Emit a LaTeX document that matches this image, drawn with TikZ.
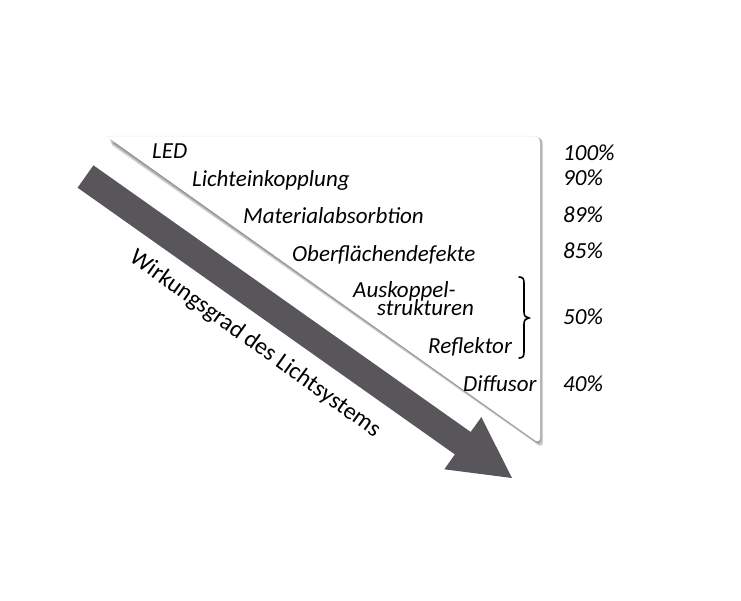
\documentclass[tikz,border=0pt]{standalone}
\usepackage{fontspec}
\setmainfont{Carlito}
\begin{document}
\begin{tikzpicture}[x=1pt,y=-1pt,
  lbl/.style={font=\fontsize{23}{25}\selectfont\itshape, inner sep=0pt, anchor=base west},
  pct/.style={font=\fontsize{23}{25}\selectfont\itshape, inner sep=0pt, anchor=base west},
  arrowgray/.style={fill={rgb,255:red,88;green,86;blue,90}, draw=none}]
\useasboundingbox (0,0) rectangle (741,600);
\fill[white] (0,0) rectangle (741,600);
% shadow of the triangle
\foreach \s in {1,2,...,8}{
  \fill[black, opacity=0.07, rounded corners=6pt]
    (106+\s*0.3,136+\s*0.9) -- (540+\s*0.4,136+\s*0.2) -- (540+\s*0.4,444+\s*0.6) -- cycle;
}
% triangle
\fill[white, rounded corners=6pt] (106,136) -- (540,136) -- (540,444) -- cycle;
\draw[black!8, line width=0.5pt, rounded corners=6pt] (106,136) -- (540,136) -- (540,444);
% big arrow
\fill[arrowgray] (93.4,165.3) -- (470.7,432.0) -- (481.3,417.1) -- (512,478)
  -- (444.3,469.3) -- (454.9,454.4) -- (77.6,187.7) -- cycle;
% labels
\node[lbl] (led) at (152,158) {LED};
\node[lbl] (lek) at (192,186) {Lichteinkopplung};
\node[lbl] (mat) at (243,223) {Materialabsorbtion};
\node[lbl] (obf) at (292,261) {Oberflächendefekte};
\node[lbl] (ausk) at (353,297) {Auskoppel-};
\node[lbl] (strk) at (377,315) {strukturen};
\node[lbl] (refl) at (428,353) {Reflektor};
\node[lbl] (diff) at (463,391) {Diffusor};
% percentages
\node[pct] (p100) at (563,160) {100\%};
\node[pct] (p90) at (563,185) {90\%};
\node[pct] (p89) at (563,222) {89\%};
\node[pct] (p85) at (563,258) {85\%};
\node[pct] (p50) at (563,324) {50\%};
\node[pct] (p40) at (563,391) {40\%};
% brace
\draw[line width=1.6pt, line cap=round] (519,277) .. controls (523,277) and (524,279) .. (524,283)
  -- (524,312) .. controls (524,316) and (526,318) .. (529,318)
  .. controls (526,318) and (524,320) .. (524,324)
  -- (524,352) .. controls (524,356) and (523,358) .. (519,358);
% rotated label
\node[font=\fontsize{24}{26}\selectfont, inner sep=0pt, rotate=-35.8] (wirk) at (255,344) {Wirkungsgrad des Lichtsystems};
\end{tikzpicture}
\end{document}
